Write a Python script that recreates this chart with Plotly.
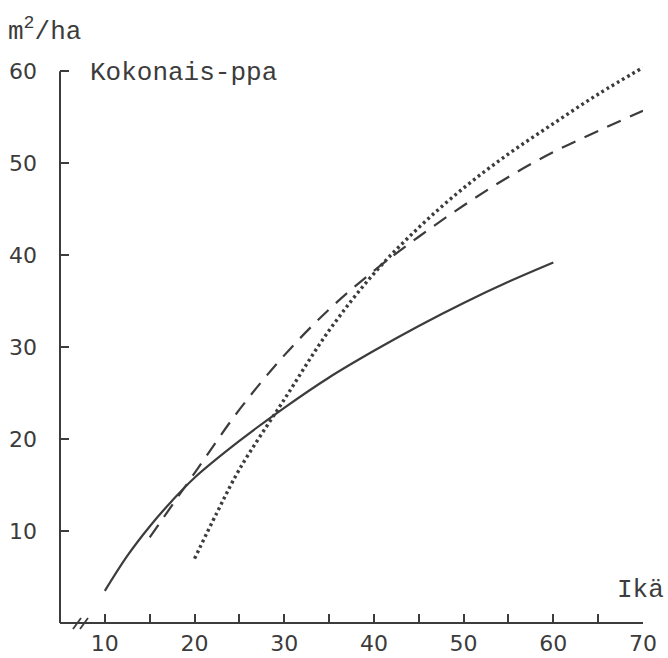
import plotly.graph_objects as go

# Data (age in years, basal area m2/ha)
solid_age = [10, 12.5, 15, 17.5, 20, 25, 30, 35, 40, 45, 50, 55, 60]
solid_val = [3.5, 7.3, 10.5, 13.3, 15.8, 19.8, 23.4, 26.7, 29.6, 32.3, 34.8, 37.1, 39.2]

dashed_age = [15, 20, 25, 30, 35, 40, 45, 50, 55, 60, 65, 70]
dashed_val = [9.3, 16.3, 23.2, 29.1, 34.1, 38.3, 42.0, 45.4, 48.5, 51.2, 53.5, 55.7]

dotted_age = [20, 22.5, 25, 30, 35, 40, 45, 50, 55, 60, 65, 70]
dotted_val = [7.0, 12.0, 16.7, 24.3, 31.8, 38.0, 43.0, 47.3, 51.0, 54.3, 57.5, 60.4]

x_major_ticks = [10, 20, 30, 40, 50, 60, 70]
x_minor_ticks = [15, 25, 35, 45, 55, 65]
y_ticks = [10, 20, 30, 40, 50, 60]

INK = "#3c3c3c"
W, H = 668, 658
L, R, T, B = 60, 25, 62, 35
PW, PH = W - L - R, H - T - B
XR = [5, 70]
YR = [0, 61]


def px(xp):
    return (xp - L) / PW


def py(yp):
    return (H - B - yp) / PH


fig = go.Figure()
fig.add_trace(go.Scatter(x=solid_age, y=solid_val, mode="lines",
                         line=dict(color=INK, width=2.2, shape="spline"),
                         hoverinfo="skip", cliponaxis=False))
fig.add_trace(go.Scatter(x=dashed_age, y=dashed_val, mode="lines",
                         line=dict(color=INK, width=2.2, shape="spline", dash="15px,10px"),
                         hoverinfo="skip", cliponaxis=False))
fig.add_trace(go.Scatter(x=dotted_age, y=dotted_val, mode="lines",
                         line=dict(color=INK, width=3.4, shape="spline", dash="2.8px,3.2px"),
                         hoverinfo="skip", cliponaxis=False))

shapes = [
    # axis lines
    dict(type="line", xref="paper", yref="paper", x0=0, x1=1, y0=0, y1=0,
         line=dict(color=INK, width=2)),
    dict(type="line", xref="paper", yref="paper", x0=0, x1=0, y0=0, y1=60 / 61,
         line=dict(color=INK, width=2)),
    # axis break marks
    dict(type="line", xref="paper", yref="paper", x0=px(73), x1=px(81), y0=py(629), y1=py(618),
         line=dict(color=INK, width=1.8)),
    dict(type="line", xref="paper", yref="paper", x0=px(80), x1=px(88), y0=py(629), y1=py(618),
         line=dict(color=INK, width=1.8)),
]

mono = dict(family="Liberation Mono", size=26, color=INK)
annotations = [
    dict(text="m<sup>2</sup>/ha", xref="paper", yref="paper", x=px(6), y=py(30),
         xanchor="left", yanchor="middle", showarrow=False, font=mono),
    dict(text="Kokonais-ppa", xref="paper", yref="paper", x=px(88), y=py(73),
         xanchor="left", yanchor="middle", showarrow=False, font=mono),
    dict(text="Ikä", xref="paper", yref="paper", x=px(666), y=py(590),
         xanchor="right", yanchor="middle", showarrow=False, font=mono),
]

tickfont = dict(family="DejaVu Sans", size=22, color=INK)
fig.update_layout(
    template="none",
    width=W, height=H,
    margin=dict(l=L, r=R, t=T, b=B, autoexpand=False),
    paper_bgcolor="white", plot_bgcolor="white",
    showlegend=False,
    shapes=shapes, annotations=annotations,
    xaxis=dict(range=XR, showgrid=False, zeroline=False, showline=False,
               automargin=False,
               tickmode="array", tickvals=x_major_ticks,
               ticks="inside", ticklen=9, tickwidth=2, tickcolor=INK,
               ticklabelstandoff=5,
               minor=dict(tickmode="array", tickvals=x_minor_ticks, ticks="inside",
                          ticklen=9, tickwidth=2, tickcolor=INK, showgrid=False),
               tickfont=tickfont, fixedrange=True),
    yaxis=dict(range=YR, showgrid=False, zeroline=False, showline=False,
               automargin=False,
               tickmode="array", tickvals=y_ticks,
               ticks="inside", ticklen=9, tickwidth=2, tickcolor=INK,
               ticklabelstandoff=22,
               tickfont=tickfont, fixedrange=True),
)

fig.write_html("out.html", config={"displayModeBar": False, "staticPlot": True})
